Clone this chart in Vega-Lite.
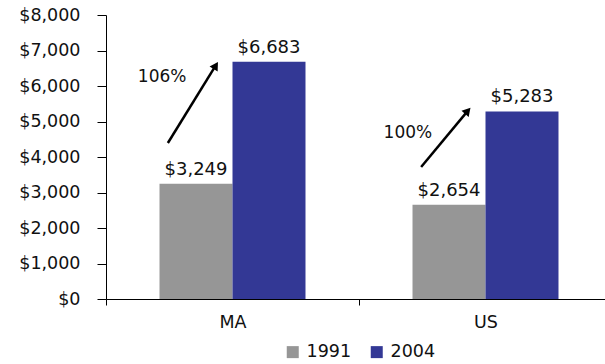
{
  "$schema": "https://vega.github.io/schema/vega-lite/v6.json",
  "width": 499,
  "height": 284,
  "autosize": "none",
  "padding": {"left": 106, "top": 15, "right": 0, "bottom": 65},
  "background": "white",
  "config": {
    "view": {"stroke": null},
    "font": "DejaVu Sans",
    "text": {"font": "DejaVu Sans"},
    "axisY": {"grid": false, "labelOverlap": false, "labelFlush": false, "domainColor": "black", "tickColor": "black", "tickSize": 9, "labelPadding": 17, "labelFont": "DejaVu Sans", "labelFontSize": 17.5, "labelColor": "#111", "title": null}
  },
  "datasets": {
    "bars": [
      {"region": "MA", "year": "1991", "value": 3249},
      {"region": "MA", "year": "2004", "value": 6683},
      {"region": "US", "year": "1991", "value": 2654},
      {"region": "US", "year": "2004", "value": 5283}
    ],
    "arrows": [
      {"region": "MA", "x1": 0.248, "y1": 4394, "x2": 0.44, "y2": 6580, "label": "106%", "lx": 0.225, "ly": 6254},
      {"region": "US", "x1": 1.263, "y1": 3720, "x2": 1.45, "y2": 5300, "label": "100%", "lx": 1.21, "ly": 4676}
    ]
  },
  "layer": [
    {
      "data": {"name": "bars"},
      "layer": [
        {
          "mark": {"type": "bar"},
          "encoding": {
            "x": {
              "field": "region", "type": "nominal",
              "scale": {"paddingInner": 0, "paddingOuter": 0, "range": [0, 506]},
              "axis": {"title": null, "labelAngle": 0, "tickBand": "extent", "domainColor": "black", "tickColor": "black", "tickSize": 6, "labelFont": "DejaVu Sans", "labelFontSize": 17.5, "labelColor": "#111", "labelPadding": 8}
            },
            "xOffset": {"field": "year", "type": "nominal", "scale": {"paddingInner": 0, "paddingOuter": 0.733}},
            "y": {
              "field": "value", "type": "quantitative",
              "scale": {"domain": [0, 8000], "nice": false},
              "axis": {"values": [0, 1000, 2000, 3000, 4000, 5000, 6000, 7000, 8000], "tickCount": 20, "format": "$,.0f"}
            },
            "color": {
              "field": "year", "type": "nominal",
              "scale": {"domain": ["1991", "2004"], "range": ["#969696", "#333895"]},
              "legend": {"title": null, "orient": "none", "legendX": 178, "legendY": 328, "direction": "horizontal", "symbolType": "square", "symbolSize": 144, "symbolStrokeWidth": 0, "labelFont": "DejaVu Sans", "labelFontSize": 17.5, "labelColor": "#111", "columnPadding": 16, "labelOffset": 5}
            }
          }
        },
        {
          "mark": {"type": "text", "baseline": "bottom", "dy": -5, "fontSize": 18, "color": "#111"},
          "encoding": {
            "x": {"field": "region", "type": "nominal"},
            "xOffset": {"field": "year", "type": "nominal"},
            "y": {"field": "value", "type": "quantitative"},
            "text": {"field": "value", "type": "quantitative", "format": "$,.0f"}
          }
        }
      ]
    },
    {
      "data": {"name": "arrows"},
      "layer": [
        {
          "mark": {"type": "rule", "strokeWidth": 2.5, "color": "black"},
          "encoding": {
            "x": {"field": "x1", "type": "quantitative", "scale": {"domain": [0, 2], "nice": false}, "axis": null},
            "x2": {"field": "x2"},
            "y": {"field": "y1", "type": "quantitative"},
            "y2": {"field": "y2"}
          }
        },
        {
          "transform": [{"filter": "datum.region == 'MA'"}],
          "mark": {"type": "point", "shape": "triangle-up", "filled": true, "color": "black", "size": 90, "angle": 32, "opacity": 1},
          "encoding": {
            "x": {"field": "x2", "type": "quantitative"},
            "y": {"field": "y2", "type": "quantitative"}
          }
        },
        {
          "transform": [{"filter": "datum.region == 'US'"}],
          "mark": {"type": "point", "shape": "triangle-up", "filled": true, "color": "black", "size": 90, "angle": 41, "opacity": 1},
          "encoding": {
            "x": {"field": "x2", "type": "quantitative"},
            "y": {"field": "y2", "type": "quantitative"}
          }
        },
        {
          "mark": {"type": "text", "fontSize": 17, "color": "#111"},
          "encoding": {
            "x": {"field": "lx", "type": "quantitative"},
            "y": {"field": "ly", "type": "quantitative"},
            "text": {"field": "label"}
          }
        }
      ]
    }
  ],
  "resolve": {"scale": {"x": "independent"}, "axis": {"x": "independent"}}
}
